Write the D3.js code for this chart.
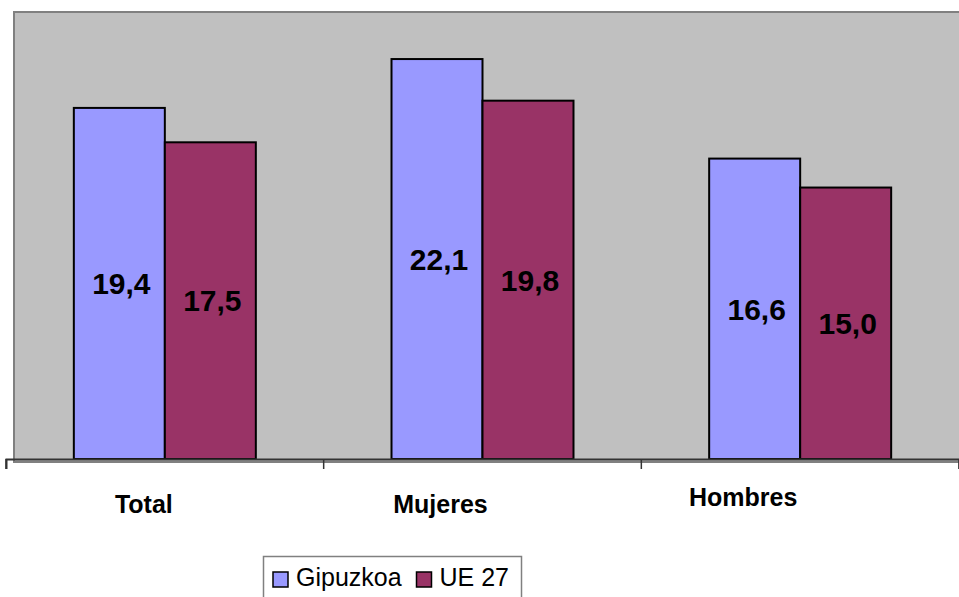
<!DOCTYPE html>
<html>
<head>
<meta charset="utf-8">
<script src="https://cdn.jsdelivr.net/npm/d3@7"></script>
<style>
  body { margin: 0; background: #fff; }
  svg { display: block; font-family: "Liberation Sans", Arial, sans-serif; }
</style>
</head>
<body>
<div id="chart"></div>
<script>
// data
var categories = ["Total", "Mujeres", "Hombres"];
var series = ["Gipuzkoa", "UE 27"];
var gipuzkoa = [19.4, 22.1, 16.6];
var ue27 = [17.5, 19.8, 15.0];

var colors = { "Gipuzkoa": "#9999ff", "UE 27": "#993366" };

// label offsets of the category names (as in the original export)
var catShiftX = [-21, -42, -57];
var catBaseY = [513, 513, 506];

var W = 959, H = 597;
var axisY = 459, plotTop = 12, plotLeft = 14;

var svg = d3.select("#chart").append("svg")
    .attr("width", W)
    .attr("height", H);

// build rows from arrays
var rows = categories.map(function (c, i) {
  return { cat: c, values: [
    { key: "Gipuzkoa", value: gipuzkoa[i] },
    { key: "UE 27", value: ue27[i] }
  ]};
});

// scales
var x0 = d3.scaleBand().domain(categories).range([6, 959]).padding(0);
var groupW = 182;
var x1 = d3.scaleBand().domain(series)
    .range([x0.bandwidth() / 2 - groupW / 2, x0.bandwidth() / 2 + groupW / 2]);
var y = d3.scaleLinear().domain([0, 24.7]).range([axisY, plotTop]);

// plot area
svg.append("rect")
    .attr("x", plotLeft)
    .attr("y", plotTop)
    .attr("width", W - plotLeft + 5)
    .attr("height", axisY - plotTop + 3)
    .attr("fill", "#c0c0c0")
    .attr("stroke", "#808080")
    .attr("stroke-width", 2);

// bars
var groups = svg.append("g").selectAll("g")
    .data(rows)
    .enter().append("g")
    .attr("transform", function (d) { return "translate(" + x0(d.cat) + ",0)"; });

groups.selectAll("rect")
    .data(function (d) { return d.values; })
    .enter().append("rect")
    .attr("x", function (d) { return x1(d.key); })
    .attr("y", function (d) { return y(d.value); })
    .attr("width", x1.bandwidth())
    .attr("height", function (d) { return y(0) - y(d.value); })
    .attr("fill", function (d) { return colors[d.key]; })
    .attr("stroke", "#000")
    .attr("stroke-width", 2);

// value labels, centred in each bar
groups.selectAll("text")
    .data(function (d) { return d.values; })
    .enter().append("text")
    .attr("x", function (d) { return x1(d.key) + x1.bandwidth() / 2 + 2; })
    .attr("y", function (d) { return (y(d.value) + y(0)) / 2; })
    .attr("dy", "0.36em")
    .attr("text-anchor", "middle")
    .attr("font-size", "30px")
    .attr("font-weight", "bold")
    .attr("fill", "#000")
    .text(function (d) { return d3.format(".1f")(d.value).replace(".", ","); });

// category axis
var xAxis = d3.axisBottom(x0).tickSize(10).tickSizeOuter(10).tickFormat("");
var axisG = svg.append("g")
    .attr("transform", "translate(0," + axisY + ")")
    .call(xAxis);
axisG.select(".domain").attr("stroke", "#333").attr("stroke-width", 2);
// ticks on band edges instead of centres
axisG.selectAll(".tick").remove();
axisG.selectAll(".edge")
    .data(categories.map(function (c) { return x0(c); }).concat([x0.range()[1]]))
    .enter().append("line")
    .attr("class", "edge")
    .attr("x1", function (d) { return d; })
    .attr("x2", function (d) { return d; })
    .attr("y1", 0)
    .attr("y2", 10)
    .attr("stroke", "#333")
    .attr("stroke-width", 1.5);

svg.append("g").selectAll("text")
    .data(categories)
    .enter().append("text")
    .attr("x", function (d, i) { return x0(d) + x0.bandwidth() / 2 + catShiftX[i]; })
    .attr("y", function (d, i) { return catBaseY[i]; })
    .attr("text-anchor", "middle")
    .attr("font-size", "25px")
    .attr("font-weight", "bold")
    .text(function (d) { return d; });

// legend
var legend = svg.append("g");
legend.append("rect")
    .attr("x", 263.5)
    .attr("y", 556.5)
    .attr("width", 258)
    .attr("height", 50)
    .attr("fill", "#fff")
    .attr("stroke", "#808080")
    .attr("stroke-width", 1.5);

var legX = [273, 416.5];
var legItems = legend.selectAll("g.item")
    .data(series)
    .enter().append("g")
    .attr("class", "item")
    .attr("transform", function (d, i) { return "translate(" + legX[i] + ",572)"; });

legItems.append("rect")
    .attr("width", 15)
    .attr("height", 15)
    .attr("fill", function (d) { return colors[d]; })
    .attr("stroke", "#000")
    .attr("stroke-width", 1.5);

legItems.append("text")
    .attr("x", 23)
    .attr("y", 14)
    .attr("font-size", "25px")
    .attr("fill", "#000")
    .text(function (d) { return d; });
</script>
</body>
</html>
